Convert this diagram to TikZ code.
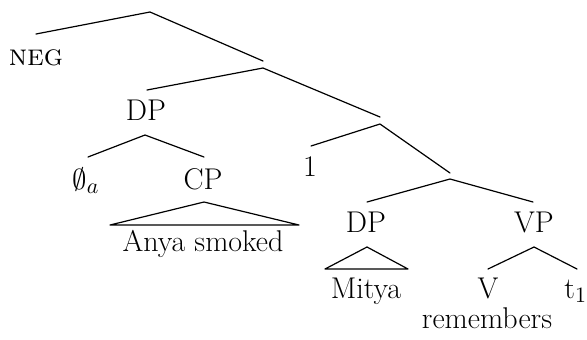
\documentclass[tikz,border=0pt]{standalone}
\begin{document}
\begin{tikzpicture}[x=0.5pt,y=-0.5pt,
  lbl/.style={inner sep=0pt, anchor=base, font=\fontsize{15}{18}\selectfont},
  branch/.style={line width=0.6pt, line cap=round, line join=round}]
\useasboundingbox (0,0) rectangle (587,339);

% labels
\node[lbl] (neg)   at (36,65)   {\textsc{neg}};
\node[lbl] (dpa)   at (146,120) {DP};
\node[lbl] (null)  at (86,189)  {$\emptyset_a$};
\node[lbl] (cp)    at (203,189) {CP};
\node[lbl] (anya)  at (203,251) {Anya smoked};
\node[lbl] (one)   at (310,176) {1};
\node[lbl] (dpb)   at (366,232) {DP};
\node[lbl] (vp)    at (534,232) {VP};
\node[lbl] (mitya) at (366,298) {Mitya};
\node[lbl] (v)     at (488,298) {V};
\node[lbl, anchor=base west] (trace) at (564,298) {t$_1$};
\node[lbl] (rem)   at (487,328) {remembers};

% branching points
\coordinate (root)  at (150,12);
\coordinate (n2t)   at (263,61);
\coordinate (n2)    at (263,68);
\coordinate (n3t)   at (380,117);
\coordinate (n3)    at (380,124);
\coordinate (n4t)   at (450,173);
\coordinate (n4)    at (450,179);

% attachment points above and below labels
\coordinate (negT)   at (36,34);
\coordinate (dpaT)   at (147,90);
\coordinate (dpaB)   at (145,135);
\coordinate (nullT)  at (88,157);
\coordinate (cpT)    at (204,157);
\coordinate (cpB)    at (204,202);
\coordinate (cpL)    at (110,225);
\coordinate (cpR)    at (299,225);
\coordinate (oneT)   at (311,146);
\coordinate (dpbT)   at (367,202);
\coordinate (dpbB)   at (367,247);
\coordinate (dpbL)   at (325,269);
\coordinate (dpbR)   at (408,269);
\coordinate (vpT)    at (533,202);
\coordinate (vpB)    at (534,247);
\coordinate (vT)     at (488,269);
\coordinate (traceT) at (577,269);

% branches
\draw[branch] (negT) -- (root) -- (n2t);
\draw[branch] (dpaT) -- (n2) -- (n3t);
\draw[branch] (nullT) -- (dpaB) -- (cpT);
\draw[branch] (cpB) -- (cpL) -- (cpR) -- cycle;
\draw[branch] (oneT) -- (n3) -- (n4t);
\draw[branch] (dpbT) -- (n4) -- (vpT);
\draw[branch] (dpbB) -- (dpbL) -- (dpbR) -- cycle;
\draw[branch] (vT) -- (vpB) -- (traceT);
\end{tikzpicture}
\end{document}
